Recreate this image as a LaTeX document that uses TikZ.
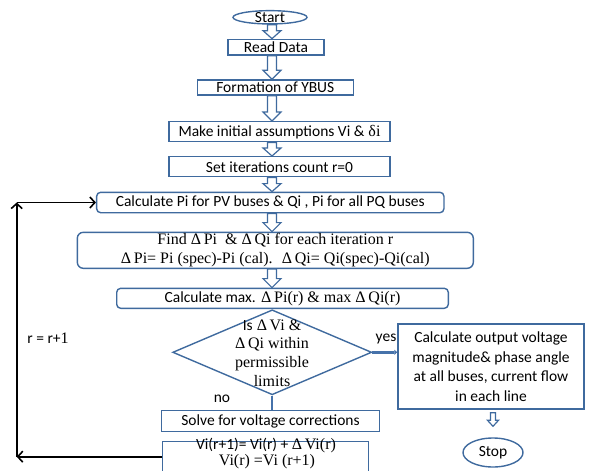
\documentclass[tikz,border=0pt]{standalone}
\usepackage{fontspec}
\setmainfont{Liberation Serif}
\newfontfamily\carlito{Carlito}
\usetikzlibrary{shapes.geometric,arrows.meta,calc}
\definecolor{boxblue}{RGB}{63,106,158}
\definecolor{linkblue}{RGB}{70,114,170}
\newcommand\cb{\carlito\fontsize{15.5}{19}\selectfont}
\newcommand\blkarrow[5]{\draw[blk] let \p1=(#1), \p2=(#2) in
  (\x1-#3,\y1) -- (\x1-#3,\y2+#5) -- (\x1-#4,\y2+#5) -- (\x1,\y2) --
  (\x1+#4,\y2+#5) -- (\x1+#3,\y2+#5) -- (\x1+#3,\y1) -- cycle;}
\begin{document}
\begin{tikzpicture}[x=1pt,y=-1pt,
  every node/.style={font=\fontsize{16}{19}\selectfont},
  box/.style={draw=boxblue,line width=1.4pt,fill=white,rectangle,inner sep=0pt,align=center},
  rbox/.style={box,rounded corners=4pt},
  blk/.style={draw=boxblue,line width=1.2pt,fill=white,line join=miter},
  loop/.style={draw=black,line width=1.8pt,-{Straight Barb[length=5pt,width=11pt,line width=1.6pt]}},
  link/.style={draw=linkblue,line width=2.4pt},
  lbl/.style={inner sep=0pt,align=center}]
\useasboundingbox (0,0) rectangle (589,471);
\clip (0,0) rectangle (589,471);
\coordinate (spine) at (272,0);
% nodes
\node[draw=boxblue,line width=1.4pt,ellipse,minimum width=74pt,minimum height=13.3pt,inner sep=0pt] (start) at (270,17.3) {};
\node[lbl] (starttext) at (270,18) {\cb Start};
\node[box,minimum width=96.3pt,minimum height=15.7pt] (read) at (276,47.2) {\cb Read Data};
\node[box,minimum width=156pt,minimum height=15pt] (ybus) at (275.3,87.5) {\cb Formation of YBUS};
\node[box,minimum width=221pt,minimum height=20pt] (make) at (279.5,131.7) {{\cb Make initial assumptions Vi \&} δi};
\node[box,minimum width=221pt,minimum height=20pt] (set) at (279.5,166.7) {\cb Set iterations count r=0};
\node[rbox,minimum width=347.3pt,minimum height=20.4pt] (calcpi) at (270.3,202.5) {\cb Calculate Pi for PV buses \& Qi , Pi for all PQ buses};
\node[box,rounded corners=6pt,minimum width=396pt,minimum height=36pt] (find) at (275.3,250.3) {Find Δ\,Pi ~\& Δ\,Qi for each iteration r\\Δ\,Pi= Pi (spec)-Pi (cal). ~Δ\,Qi= Qi(spec)-Qi(cal)};
\node[rbox,minimum width=331.6pt,minimum height=20pt] (calcmax) at (282.5,298.3) {{\cb Calculate max.} Δ\,Pi(r) \& max Δ\,Qi(r)};
\node[draw=boxblue,line width=1.4pt,diamond,inner sep=0pt,minimum width=199pt,minimum height=85pt] (dia) at (272.2,352.3) {};
\node[lbl,font=\fontsize{16}{18.7}\selectfont] (diatext) at (272,353) {{\cb Is} Δ\,Vi \&\\Δ\,Qi within\\permissible\\limits};
\node[box,minimum width=186pt,minimum height=85pt,font=\carlito\fontsize{15.5}{19.5}\selectfont] (out) at (491,366.5) {Calculate output voltage\\magnitude\& phase angle\\at all buses, current flow\\in each line};
\node[draw=boxblue,line width=1.4pt,ellipse,minimum width=60pt,minimum height=29pt,inner sep=0pt] (stop) at (493,452.5) {\cb Stop};
\node[box,minimum width=217.6pt,minimum height=21pt] (solve) at (270.5,421.2) {\cb Solve for voltage corrections};
\node[box,minimum width=206pt,minimum height=50pt] (vi) at (265.3,466.7) {};
\node[lbl] (vi1) at (266,446) {{\cb Vi(r+1)= Vi(r) + }Δ\,Vi(r)};
\node[lbl] (vi2) at (267,462) {Vi(r) =Vi (r+1)};
\node[lbl] (rr) at (48,338) {{\cb r = r+}1};
\node[lbl] (yes) at (386,339) {\cb yes};
\node[lbl] (no) at (222,399) {\cb no};
% block arrows
\blkarrow{start.south -| spine}{read.north -| spine}{4.5pt}{9pt}{8pt}
\blkarrow{read.south -| spine}{ybus.north -| spine}{4.5pt}{9pt}{9pt}
\blkarrow{ybus.south -| spine}{make.north -| spine}{4.5pt}{9pt}{9pt}
\blkarrow{make.south -| spine}{set.north -| spine}{4.5pt}{9pt}{8pt}
\blkarrow{set.south -| spine}{calcpi.north -| spine}{4.5pt}{9pt}{8pt}
\blkarrow{calcpi.south -| spine}{find.north -| spine}{4.5pt}{9pt}{9pt}
\blkarrow{find.south -| spine}{calcmax.north -| spine}{4.5pt}{9pt}{9pt}
\blkarrow{$(out.south -| stop.north)+(0,-3pt)$}{$(stop.north)+(0,11pt)$}{2.5pt}{5.5pt}{6pt}
% yes / no links
\draw[link,-{Triangle[length=3pt,width=5pt]}] (dia.east) -- (out.west |- dia.east);
\draw[link] (dia.south) -- (solve.north -| dia.south);
% loop back
\coordinate (lb) at (16.7,456.7);
\coordinate (lt) at (16.7,202.5);
\draw[loop] (vi.west |- lb) -- (lb);
\draw[loop] (lb) -- (lt);
\draw[loop] (lt) -- (calcpi.west);
\end{tikzpicture}
\end{document}
